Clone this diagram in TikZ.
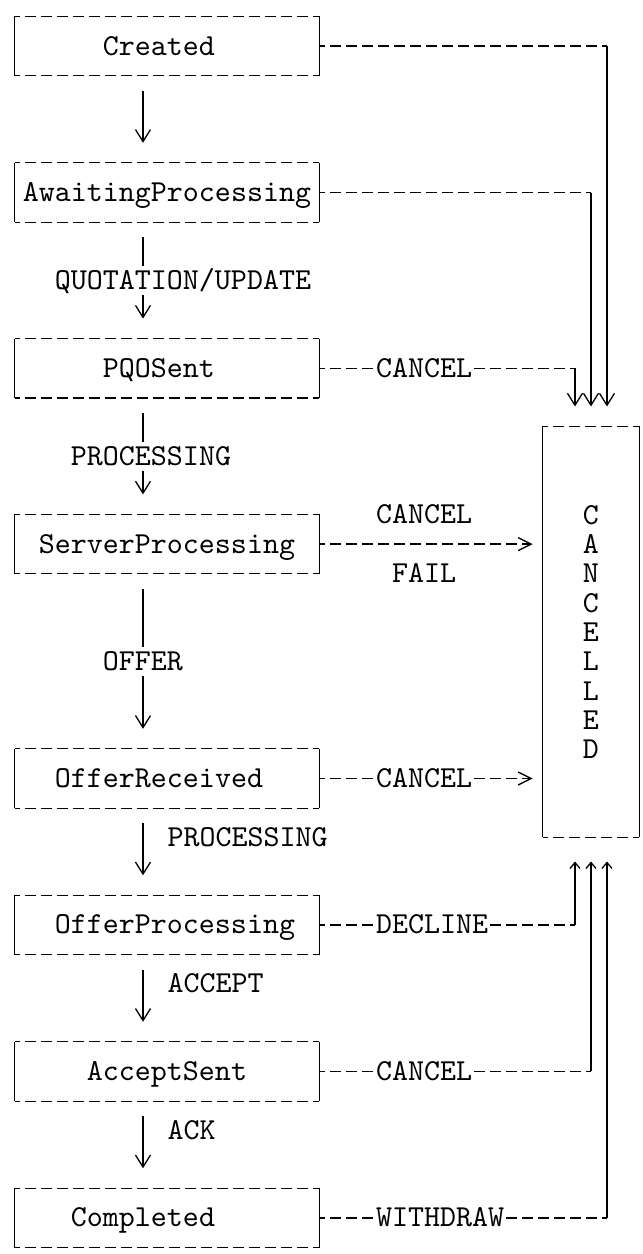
\documentclass[tikz,border=0pt]{standalone}
\usepackage{fontspec}
\setmonofont{lmmono10-regular.otf}
\usetikzlibrary{arrows.meta}

\tikzset{
  wire/.style={line width=0.65pt},
  hwire/.style={wire, dash pattern=on 5.5pt off 2.5pt, dash phase=2.75pt},
  txt/.style={inner sep=0pt, text height=9pt, text depth=0pt},
  state/.style={minimum width=152pt, minimum height=29.3pt, inner sep=0pt},
  sink/.style={minimum width=48pt, minimum height=205.1pt, inner sep=0pt, align=center},
  trans/.style={wire, -{Straight Barb[length=6pt,width=7.5pt]}, shorten <=7.5pt, shorten >=10pt},
  down/.style={wire, -{Straight Barb[length=6pt,width=7.5pt]}, shorten >=10pt},
  up/.style={wire, -{Straight Barb[length=3pt,width=5pt]}, shorten >=12pt},
  into/.style={hwire, -{Straight Barb[length=6.5pt,width=6.5pt]}, shorten >=5pt},
  mid/.style={txt, fill=white, minimum height=14.65pt, midway},
  side/.style={txt, anchor=west, pos=0.3333, xshift=12pt},
  tag/.style={txt, fill=white, anchor=west, pos=0, xshift=28pt},
}

\begin{document}
\begin{tikzpicture}[x=8pt, y=-14.65pt, font=\ttfamily\fontsize{15.24pt}{14.65pt}\selectfont]
    \useasboundingbox (-0.9375,-0.57) rectangle (39.25,42.23);

    % states
    \node[state, label={[txt,xshift=-4pt]center:Created}] (cre) at (9.5,1) {};
    \node[state, label={[txt]center:AwaitingProcessing}] (awt) at (9.5,6) {};
    \node[state, label={[txt,xshift=-4pt]center:PQOSent}] (pqo) at (9.5,12) {};
    \node[state, label={[txt]center:ServerProcessing}] (srv) at (9.5,18) {};
    \node[state, label={[txt,xshift=-4pt]center:OfferReceived}] (ofr) at (9.5,26) {};
    \node[state, label={[txt,xshift=4pt]center:OfferProcessing}] (ofp) at (9.5,31) {};
    \node[state, label={[txt]center:AcceptSent}] (acc) at (9.5,36) {};
    \node[state, label={[txt,xshift=-12pt]center:Completed}] (cmp) at (9.5,41) {};
    \node[sink] (cxl) at (36,21) {C\\A\\N\\C\\E\\L\\L\\E\\D};

    \foreach \s in {cre,awt,pqo,srv,ofr,ofp,acc,cmp,cxl}{
        \draw[hwire] (\s.north west) -- (\s.north east) (\s.south west) -- (\s.south east);
        \draw[wire] (\s.north west) -- (\s.south west) (\s.north east) -- (\s.south east);
    }

    % main flow
    \draw[trans] ([xshift=-12pt]cre.south) -- ([xshift=-12pt]awt.north);
    \draw[trans] ([xshift=-12pt]awt.south) -- node[mid,xshift=20pt] {QUOTATION/UPDATE} ([xshift=-12pt]pqo.north);
    \draw[trans] ([xshift=-12pt]pqo.south) -- node[mid,xshift=4pt] {PROCESSING} ([xshift=-12pt]srv.north);
    \draw[trans] ([xshift=-12pt]srv.south) -- node[mid] {OFFER} ([xshift=-12pt]ofr.north);
    \draw[trans] ([xshift=-12pt]ofr.south) -- node[side] {PROCESSING} ([xshift=-12pt]ofp.north);
    \draw[trans] ([xshift=-12pt]ofp.south) -- node[side] {ACCEPT} ([xshift=-12pt]acc.north);
    \draw[trans] ([xshift=-12pt]acc.south) -- node[side] {ACK} ([xshift=-12pt]cmp.north);

    % into CANCELLED
    \coordinate (t1) at ([xshift=-8pt]cxl.north);
    \coordinate (t2) at (cxl.north);
    \coordinate (t3) at ([xshift=8pt]cxl.north);
    \coordinate (b1) at ([xshift=-8pt]cxl.south);
    \coordinate (b2) at (cxl.south);
    \coordinate (b3) at ([xshift=8pt]cxl.south);

    \draw[hwire] (cre.east) -- (cre.east -| t3);
    \draw[down] (cre.east -| t3) -- (t3);
    \draw[hwire] (awt.east) -- (awt.east -| t2);
    \draw[down] (awt.east -| t2) -- (t2);
    \draw[hwire] (pqo.east) -- node[tag] {CANCEL} (pqo.east -| t1);
    \draw[down] (pqo.east -| t1) -- (t1);
    \draw[into] (srv.east) -- node[tag, yshift=14.65pt] {CANCEL} node[tag, xshift=8pt, yshift=-14.65pt] {FAIL} (srv.east -| cxl.west);
    \draw[into] (ofr.east) -- node[tag] {CANCEL} (ofr.east -| cxl.west);
    \draw[hwire] (ofp.east) -- node[tag] {DECLINE} (ofp.east -| b1);
    \draw[up] (ofp.east -| b1) -- (b1);
    \draw[hwire] (acc.east) -- node[tag] {CANCEL} (acc.east -| b2);
    \draw[up] (acc.east -| b2) -- (b2);
    \draw[hwire] (cmp.east) -- node[tag] {WITHDRAW} (cmp.east -| b3);
    \draw[up] (cmp.east -| b3) -- (b3);
\end{tikzpicture}
\end{document}
